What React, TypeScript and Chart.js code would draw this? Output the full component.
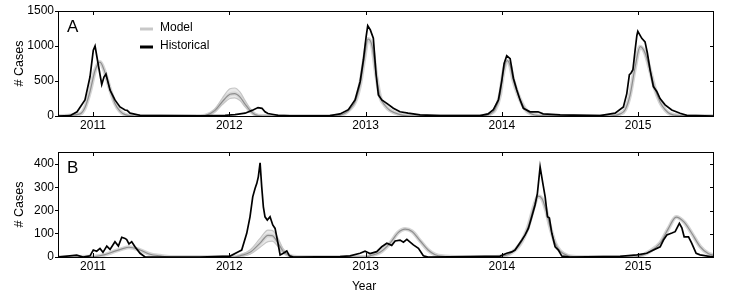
import React, { useEffect, useRef } from "react";
import { Chart, registerables } from "chart.js";

Chart.register(...registerables);

type P = [number, number];

const xMin = 2010.743;
const xMax = 2015.557;
const yearTicks = [2011, 2012, 2013, 2014, 2015];
const ticksA = [0, 500, 1000, 1500];
const ticksB = [0, 100, 200, 300, 400];

// Panel A — historical cases (year, cases)
const historicalA: P[] = [
  [2010.743, 0], [2010.831, 5], [2010.883, 60], [2010.941, 230], [2010.978, 560],
  [2011.002, 940], [2011.015, 1000], [2011.037, 750], [2011.064, 450], [2011.081, 560],
  [2011.095, 600], [2011.125, 370], [2011.161, 230], [2011.198, 130], [2011.235, 85],
  [2011.25, 80], [2011.272, 40], [2011.345, 10], [2011.492, 5], [2011.785, 3],
  [2011.969, 10], [2012.042, 20], [2012.116, 40], [2012.167, 80], [2012.211, 120],
  [2012.24, 110], [2012.262, 60], [2012.284, 35], [2012.314, 25], [2012.358, 10],
  [2012.446, 3], [2012.739, 5], [2012.813, 30], [2012.874, 90], [2012.923, 230],
  [2012.96, 490], [2012.984, 800], [2013.004, 1130], [2013.016, 1290], [2013.035, 1230],
  [2013.057, 1110], [2013.077, 600], [2013.094, 300], [2013.119, 230], [2013.156, 180],
  [2013.204, 110], [2013.253, 60], [2013.312, 40], [2013.4, 15], [2013.547, 5],
  [2013.84, 5], [2013.899, 30], [2013.938, 90], [2013.975, 230], [2014.0, 510],
  [2014.017, 750], [2014.036, 860], [2014.061, 820], [2014.085, 540], [2014.11, 370],
  [2014.134, 230], [2014.158, 110], [2014.207, 60], [2014.266, 60], [2014.303, 30],
  [2014.428, 15], [2014.721, 5], [2014.831, 40], [2014.892, 130], [2014.917, 320],
  [2014.936, 590], [2014.947, 610], [2014.962, 660], [2014.978, 940], [2014.991, 1150],
  [2014.998, 1210], [2015.027, 1110], [2015.051, 1060], [2015.068, 900], [2015.088, 660],
  [2015.112, 420], [2015.137, 350], [2015.161, 250], [2015.198, 160], [2015.247, 86],
  [2015.308, 40], [2015.357, 10], [2015.557, 0],
];

// Panel A — model median
const modelA: P[] = [
  [2010.743, 0], [2010.905, 30], [2010.941, 120], [2010.978, 350], [2011.015, 650],
  [2011.051, 770], [2011.088, 620], [2011.125, 380], [2011.161, 180], [2011.198, 70],
  [2011.235, 20], [2011.308, 0], [2011.785, 0], [2011.822, 5], [2011.895, 80],
  [2011.947, 200], [2012.005, 310], [2012.04, 320], [2012.079, 270], [2012.116, 170],
  [2012.152, 80], [2012.189, 20], [2012.24, 0], [2012.776, 0], [2012.85, 40],
  [2012.886, 100], [2012.923, 200], [2012.96, 450], [2012.989, 800], [2013.018, 1100],
  [2013.048, 1000], [2013.077, 600], [2013.106, 280], [2013.143, 150], [2013.18, 80],
  [2013.253, 20], [2013.327, 0], [2013.84, 0], [2013.914, 30], [2013.95, 90],
  [2013.987, 300], [2014.009, 600], [2014.039, 790], [2014.061, 720], [2014.083, 520],
  [2014.12, 300], [2014.171, 100], [2014.207, 40], [2014.281, 5], [2014.795, 0],
  [2014.868, 30], [2014.905, 90], [2014.941, 300], [2014.978, 700], [2015.015, 990],
  [2015.051, 900], [2015.088, 650], [2015.125, 380], [2015.161, 200], [2015.198, 90],
  [2015.235, 30], [2015.308, 5], [2015.557, 0],
];

// Panel A — model spread around the 2012 season
const modelAUpper: P[] = [
  [2011.822, 0], [2011.895, 100], [2011.947, 250], [2012.005, 390], [2012.04, 400],
  [2012.079, 340], [2012.116, 220], [2012.152, 110], [2012.189, 30], [2012.24, 0],
];
const modelALower: P[] = [
  [2011.822, 0], [2011.895, 60], [2011.947, 160], [2012.005, 250], [2012.04, 260],
  [2012.079, 220], [2012.116, 130], [2012.152, 60], [2012.189, 10], [2012.24, 0],
];

// Panel B — historical cases
const historicalB: P[] = [
  [2010.743, 0], [2010.88, 8], [2010.927, 0], [2010.978, 5], [2011.002, 30],
  [2011.027, 25], [2011.051, 37], [2011.073, 20], [2011.101, 47], [2011.125, 33],
  [2011.161, 66], [2011.186, 47], [2011.211, 85], [2011.235, 80], [2011.247, 75],
  [2011.264, 56], [2011.284, 66], [2011.308, 44], [2011.345, 16], [2011.382, 0],
  [2011.785, 0], [2012.006, 4], [2012.067, 23], [2012.091, 30], [2012.128, 102],
  [2012.152, 173], [2012.172, 259], [2012.189, 295], [2012.202, 317], [2012.213, 345],
  [2012.226, 405], [2012.238, 302], [2012.25, 216], [2012.262, 173], [2012.279, 159],
  [2012.299, 173], [2012.319, 138], [2012.336, 123], [2012.353, 73], [2012.373, 9],
  [2012.397, 16], [2012.422, 26], [2012.441, 5], [2012.47, 0], [2012.813, 2],
  [2012.886, 5], [2012.96, 16], [2012.996, 25], [2013.033, 15], [2013.082, 23],
  [2013.119, 44], [2013.156, 59], [2013.192, 50], [2013.217, 69], [2013.253, 73],
  [2013.278, 64], [2013.303, 76], [2013.327, 64], [2013.351, 52], [2013.388, 37],
  [2013.424, 5], [2013.459, 0], [2013.767, 2], [2013.987, 4], [2014.036, 16],
  [2014.073, 22], [2014.097, 30], [2014.122, 52], [2014.147, 73], [2014.171, 95],
  [2014.195, 123], [2014.22, 173], [2014.244, 224], [2014.261, 274], [2014.281, 388],
  [2014.301, 317], [2014.318, 259], [2014.335, 173], [2014.349, 168], [2014.367, 102],
  [2014.391, 44], [2014.415, 30], [2014.44, 4], [2014.501, 0], [2014.868, 3],
  [2014.991, 9], [2015.064, 16], [2015.113, 30], [2015.162, 44], [2015.186, 73],
  [2015.211, 95], [2015.248, 103], [2015.272, 109], [2015.303, 145], [2015.321, 126],
  [2015.338, 87], [2015.37, 87], [2015.394, 59], [2015.426, 16], [2015.455, 9],
  [2015.529, 2], [2015.557, 2],
];

// Panel B — model median
const modelB: P[] = [
  [2010.743, 0], [2011.015, 2], [2011.088, 10], [2011.161, 25], [2011.213, 35],
  [2011.264, 42], [2011.345, 30], [2011.418, 12], [2011.492, 5], [2011.565, 0],
  [2012.042, 0], [2012.079, 5], [2012.152, 20], [2012.226, 60], [2012.284, 93],
  [2012.314, 92], [2012.358, 60], [2012.395, 25], [2012.446, 5], [2012.519, 0],
  [2012.996, 0], [2013.033, 5], [2013.106, 20], [2013.18, 60], [2013.239, 105],
  [2013.29, 120], [2013.341, 110], [2013.4, 70], [2013.459, 30], [2013.51, 10],
  [2013.584, 2], [2013.657, 0], [2013.951, 0], [2014.061, 15], [2014.134, 55],
  [2014.193, 130], [2014.237, 220], [2014.266, 262], [2014.296, 250], [2014.325, 200],
  [2014.354, 130], [2014.391, 60], [2014.428, 25], [2014.487, 5], [2014.575, 0],
  [2014.978, 0], [2015.088, 25], [2015.162, 60], [2015.22, 120], [2015.279, 172],
  [2015.338, 150], [2015.396, 100], [2015.455, 45], [2015.514, 15], [2015.557, 8],
];

// Panel B — model spread around the 2012 season
const modelBUpper: P[] = [
  [2012.042, 0], [2012.079, 8], [2012.152, 30], [2012.226, 80], [2012.284, 116],
  [2012.314, 115], [2012.358, 80], [2012.395, 35], [2012.446, 8], [2012.519, 0],
];
const modelBLower: P[] = [
  [2012.042, 0], [2012.079, 3], [2012.152, 12], [2012.226, 42], [2012.284, 66],
  [2012.314, 68], [2012.358, 45], [2012.395, 18], [2012.446, 3], [2012.519, 0],
];

const FONT = "'Liberation Sans', Arial, Helvetica, sans-serif";

const toXY = (arr: P[]) => arr.map(([x, y]) => ({ x, y }));

type PanelProps = {
  hist: P[];
  model: P[];
  upper: P[];
  lower: P[];
  yMax: number;
  yTicks: number[];
  letter: string;
  legend: boolean;
  yearTitle: boolean;
  height: number;
  padTop: number;
  xHeight: number;
};

function Panel(props: PanelProps) {
  const ref = useRef<HTMLCanvasElement | null>(null);
  useEffect(() => {
    const canvas = ref.current;
    if (!canvas) return;
    const framePlugin = {
      id: "frame",
      afterDraw(chart: any) {
        const ctx = chart.ctx as CanvasRenderingContext2D;
        const a = chart.chartArea;
        const xs = chart.scales.x;
        const ys = chart.scales.y;
        ctx.save();
        ctx.strokeStyle = "#000";
        ctx.lineWidth = 1;
        ctx.strokeRect(a.left + 0.5, a.top + 0.5, a.right - a.left - 1, a.bottom - a.top);
        ctx.beginPath();
        for (const v of yearTicks) {
          const px = Math.round(xs.getPixelForValue(v)) + 0.5;
          ctx.moveTo(px, a.top);
          ctx.lineTo(px, a.top + 4);
          ctx.moveTo(px, a.bottom);
          ctx.lineTo(px, a.bottom - 4);
        }
        for (const v of props.yTicks) {
          const py = Math.round(ys.getPixelForValue(v)) + 0.5;
          ctx.moveTo(a.right, py);
          ctx.lineTo(a.right - 4, py);
        }
        ctx.stroke();

        ctx.fillStyle = "#000";
        ctx.font = `17px ${FONT}`;
        ctx.textAlign = "left";
        ctx.textBaseline = "middle";
        ctx.fillText(props.letter, 67, a.top + 16);

        if (props.legend) {
          ctx.lineWidth = 3;
          ctx.strokeStyle = "#c8c8c8";
          ctx.beginPath();
          ctx.moveTo(140, 29);
          ctx.lineTo(153, 29);
          ctx.stroke();
          ctx.strokeStyle = "#000";
          ctx.beginPath();
          ctx.moveTo(140, 47);
          ctx.lineTo(153, 47);
          ctx.stroke();
          ctx.font = `12px ${FONT}`;
          ctx.fillText("Model", 160, 28);
          ctx.fillText("Historical", 160, 46);
        }
        if (props.yearTitle) {
          ctx.font = `12px ${FONT}`;
          ctx.textAlign = "center";
          ctx.fillText("Year", 364, chart.height - 11);
        }
        ctx.restore();
      },
    };

    const chart = new Chart(canvas, {
      type: "line",
      data: {
        datasets: [
          {
            label: "Historical",
            data: toXY(props.hist),
            borderColor: "#000",
            borderWidth: 1.7,
            pointRadius: 0,
            tension: 0,
            fill: false,
          },
          {
            label: "Model",
            data: toXY(props.model),
            borderColor: "#8e8e8e",
            borderWidth: 1.2,
            pointRadius: 0,
            cubicInterpolationMode: "monotone",
            fill: false,
          },
          {
            label: "Model upper",
            data: toXY(props.upper),
            borderColor: "#c6c6c6",
            borderWidth: 1.2,
            pointRadius: 0,
            cubicInterpolationMode: "monotone",
            fill: false,
          },
          {
            label: "Model lower",
            data: toXY(props.lower),
            borderColor: "#c6c6c6",
            borderWidth: 1.2,
            pointRadius: 0,
            cubicInterpolationMode: "monotone",
            fill: "-1",
            backgroundColor: "rgba(215,215,215,0.55)",
          },
          {
            label: "Model halo",
            data: toXY(props.model),
            borderColor: "#d4d4d4",
            borderWidth: 4,
            pointRadius: 0,
            cubicInterpolationMode: "monotone",
            fill: false,
          },
        ],
      } as any,
      options: {
        animation: false,
        responsive: false,
        maintainAspectRatio: false,
        events: [],
        layout: { padding: { top: props.padTop, right: 27, left: 0, bottom: 0 } },
        plugins: { legend: { display: false }, tooltip: { enabled: false } },
        scales: {
          x: {
            type: "linear",
            min: xMin,
            max: xMax,
            afterBuildTicks: (s: any) => {
              s.ticks = yearTicks.map((v) => ({ value: v }));
            },
            afterFit: (s: any) => {
              s.height = props.xHeight;
            },
            ticks: {
              callback: (v: any) => String(v),
              color: "#000",
              font: { family: FONT, size: 12 },
              padding: 2,
              maxRotation: 0,
              autoSkip: false,
            },
            grid: { display: false, drawTicks: false, tickLength: 0 },
            border: { display: false },
          },
          y: {
            min: 0,
            max: props.yMax,
            afterBuildTicks: (s: any) => {
              s.ticks = props.yTicks.map((v) => ({ value: v }));
            },
            afterFit: (s: any) => {
              s.width = 58;
            },
            ticks: {
              color: "#000",
              font: { family: FONT, size: 12 },
              padding: 1,
              callback: (v: any) => String(v),
            },
            grid: { drawOnChartArea: false, tickLength: 3, color: "#000" },
            border: { display: false },
            title: {
              display: true,
              text: "# Cases",
              color: "#000",
              font: { family: FONT, size: 12.5 },
              padding: { top: 12.5, bottom: 0 },
            },
          },
        },
      } as any,
      plugins: [framePlugin],
    });
    return () => chart.destroy();
  }, []);
  return (
    <canvas
      ref={ref}
      width={741}
      height={props.height}
      style={{ display: "block", width: 741, height: props.height }}
    />
  );
}

export default function App() {
  return (
    <div
      style={{
        position: "fixed",
        left: 0,
        top: 0,
        width: 741,
        height: 298,
        background: "#fff",
      }}
    >
      <Panel
        hist={historicalA}
        model={modelA}
        upper={modelAUpper}
        lower={modelALower}
        yMax={1500}
        yTicks={ticksA}
        letter="A"
        legend={true}
        yearTitle={false}
        height={140}
        padTop={11}
        xHeight={24}
      />
      <Panel
        hist={historicalB}
        model={modelB}
        upper={modelBUpper}
        lower={modelBLower}
        yMax={452}
        yTicks={ticksB}
        letter="B"
        legend={false}
        yearTitle={true}
        height={158}
        padTop={12}
        xHeight={41}
      />
    </div>
  );
}
